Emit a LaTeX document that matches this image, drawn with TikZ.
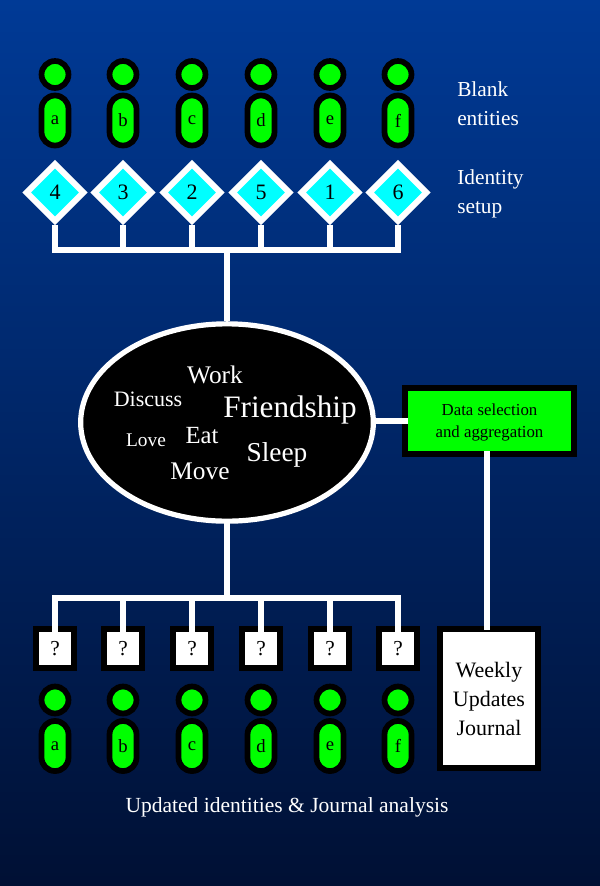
\documentclass[tikz,border=0pt]{standalone}
\usepackage{fontspec}
\setmainfont{Liberation Serif}
\usetikzlibrary{shapes.geometric}
\definecolor{topblue}{RGB}{0,58,150}
\definecolor{midblue}{RGB}{0,38,105}
\definecolor{lowblue}{RGB}{0,16,52}
\definecolor{entgreen}{RGB}{0,255,0}
\definecolor{idcyan}{RGB}{0,255,255}
\tikzset{
  wire/.style={draw=white,line width=3.9pt},
  blackbox/.style={draw=black,line width=4.3pt,rectangle,inner sep=0pt,outer sep=-0.5\pgflinewidth,align=center},
  headdot/.style={circle,draw=black,fill=entgreen,line width=4.3pt,minimum size=20.2pt,inner sep=0pt},
  bodypill/.style={rectangle,draw=black,fill=entgreen,line width=4.3pt,rounded corners=10pt,minimum width=20.2pt,minimum height=37.5pt,inner sep=0pt,font=\fontsize{14}{14}\selectfont},
  idgem/.style={diamond,draw=white,fill=idcyan,line width=4.6pt,minimum size=44.5pt,inner sep=0pt,font=\fontsize{16.5}{16.5}\selectfont},
  askbox/.style={blackbox,fill=white,minimum size=29pt,font=\fontsize{16}{16}\selectfont},
  sidetext/.style={anchor=west,align=left,inner sep=0pt,text=white,font=\fontsize{16}{21.75}\selectfont},
  cloudword/.style={anchor=base,text=white,inner sep=0pt}
}
\begin{document}
\begin{tikzpicture}[x=0.75pt,y=-0.75pt]
    % 背景
    \useasboundingbox (0,0) rectangle (600,886);
    \shade[top color=topblue,middle color=midblue,bottom color=lowblue] (0,0) rectangle (600,886);
    % 上下两排
    \foreach \col/\xpos/\letter/\num in {1/55/a/4,2/123/b/3,3/192/c/2,4/261/d/5,5/330/e/1,6/398/f/6}{
        \node[headdot] (head\col) at (\xpos,74.5) {};
        \node[bodypill] (body\col) at (\xpos,120.5) {\letter};
        \node[idgem] (id\col) at (\xpos,192.5) {\num};
        \node[askbox] (ask\col) at (\xpos,648.5) {?};
        \node[headdot] (headlow\col) at (\xpos,700) {};
        \node[bodypill] (bodylow\col) at (\xpos,746) {\letter};
    }
    % 中间椭圆
    \node[ellipse,draw=white,fill=black,line width=3.9pt,minimum width=219.5pt,minimum height=148pt,inner sep=0pt] (cloud) at (227,422.5) {};
    \foreach \tag/\word/\xpos/\ypos/\sz in {work/Work/215/383/19,discuss/Discuss/148/406/16.5,friend/Friendship/290/417/23.4,love/Love/146/446/14.5,eat/Eat/202/443/18.5,move/Move/200/479/19,sleep/Sleep/277/461/20.5}{
        \node[cloudword,font=\fontsize{\sz}{\sz}\selectfont] (\tag) at (\xpos,\ypos) {\word};
    }
    % 右侧方框
    \node[blackbox,fill=entgreen,minimum width=126.5pt,minimum height=49.5pt] (data) at (489.5,421) {};
    \node[align=center,inner sep=0pt,font=\fontsize{12.6}{16.5}\selectfont] (datatext) at (489.5,422.5) {Data selection\\and aggregation};
    \node[blackbox,fill=white,minimum width=73.5pt,minimum height=104.5pt,font=\fontsize{16.5}{21.75}\selectfont] (journal) at (489,698.5) {Weekly\\Updates\\Journal};
    % 文字
    \node[sidetext] (blank) at (457,104) {Blank\\entities};
    \node[sidetext] (setup) at (457,194) {Identity\\setup};
    \node[anchor=base,text=white,inner sep=0pt,font=\fontsize{16.15}{16.15}\selectfont] (caption) at (287,812) {Updated identities \& Journal analysis};
    % 连线
    \coordinate (bustop) at (227,250);
    \coordinate (buslow) at (227,598);
    \coordinate (feed) at (487,630);
    \foreach \col in {1,...,6}{
        \draw[wire] (id\col.south) |- (bustop);
        \draw[wire] (ask\col.north) |- (buslow);
    }
    \draw[wire] (bustop) -- (cloud.north);
    \draw[wire] (buslow) -- (cloud.south);
    \draw[wire] (cloud.east |- data.west) -- (data.west);
    \draw[wire] (feed |- data.south) -- (feed);
\end{tikzpicture}
\end{document}
